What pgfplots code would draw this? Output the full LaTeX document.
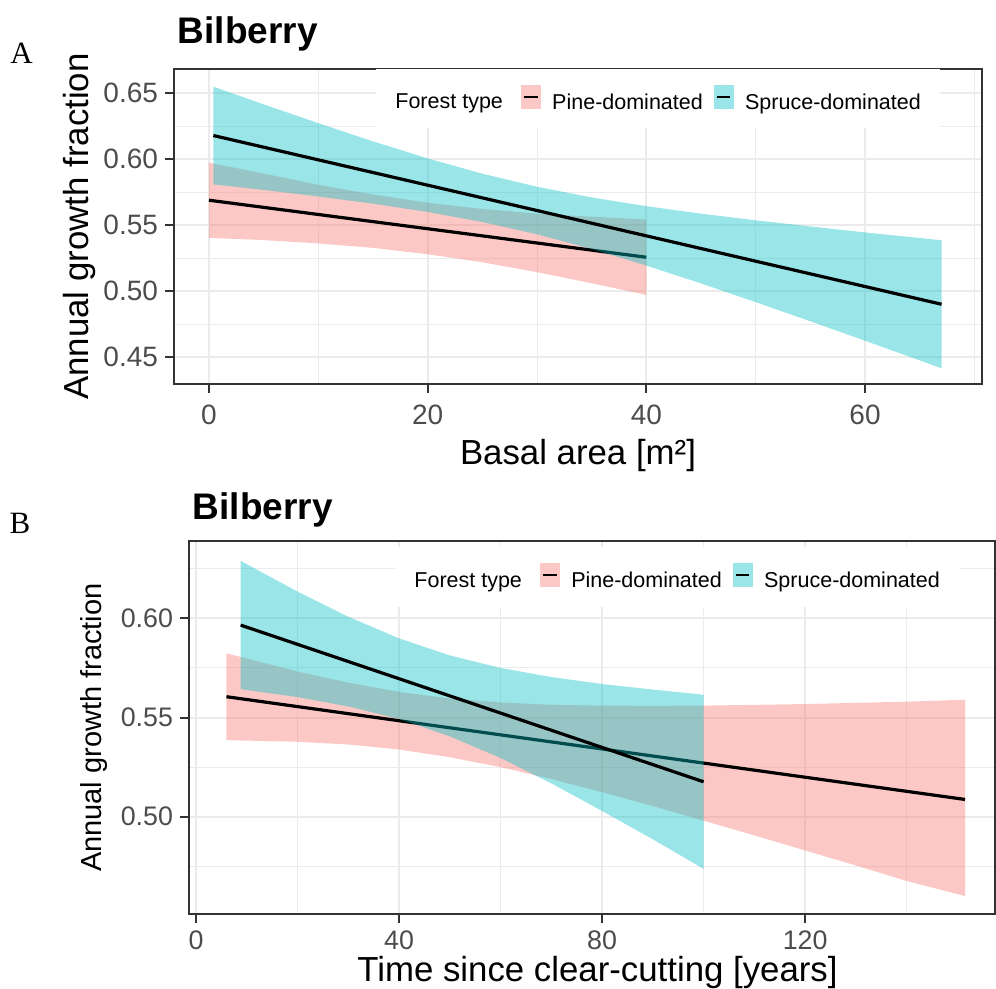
\documentclass[border=0pt]{standalone}
\usepackage{pgfplots}
\pgfplotsset{compat=1.18}
\usepackage{pgfplotstable}
\usepackage{fontspec}
\setmainfont{Liberation Sans}
\newfontfamily\panelfont{Liberation Serif}

\definecolor{pinefill}{HTML}{F8766D}
\definecolor{sprucefill}{HTML}{00BFC4}
\colorlet{pinekeyc}{pinefill!40}
\colorlet{sprucekeyc}{sprucefill!40}
\definecolor{gridc}{gray}{0.92}
\definecolor{framec}{gray}{0.2}
\definecolor{ticktext}{gray}{0.3}

% Fitted growth fraction vs basal area
\pgfplotstableread{
x    fit
0    0.5690
40   0.5258
}\pineA
\pgfplotstableread{
x    fit
0.4  0.6180
67   0.4902
}\spruceA
% Confidence bands: upper edge left to right, then lower edge right to left
\pgfplotstableread{
x    y
0    0.5975
5    0.5892
10   0.5807
15   0.5733
20   0.5671
25   0.5624
30   0.5589
35   0.5565
40   0.5543
40   0.4973
35   0.5061
30   0.5145
25   0.5220
20   0.5281
15   0.5329
10   0.5363
5    0.5388
0    0.5405
}\pineAband
\pgfplotstableread{
x    y
0.4  0.6550
5    0.6416
10   0.6274
15   0.6136
20   0.6007
25   0.5891
30   0.5792
35   0.5711
40   0.5645
45   0.5588
50   0.5538
55   0.5491
60   0.5446
67   0.5387
67   0.4417
60   0.4626
55   0.4773
50   0.4918
45   0.5060
40   0.5195
35   0.5321
30   0.5432
25   0.5525
20   0.5601
15   0.5664
10   0.5718
5    0.5768
0.4  0.5810
}\spruceAband

% Fitted growth fraction vs time since clear-cutting
\pgfplotstableread{
x     fit
6     0.5605
151.5 0.5087
}\pineB
\pgfplotstableread{
x     fit
8.8   0.5966
100   0.5176
}\spruceB
\pgfplotstableread{
x     y
6     0.5824
20    0.5732
30    0.5676
40    0.5629
50    0.5596
60    0.5576
70    0.5564
80    0.5560
90    0.5559
100   0.5560
110   0.5564
120   0.5568
130   0.5574
140   0.5580
151.5 0.5590
151.5 0.4600
140   0.4676
130   0.4754
120   0.4830
110   0.4906
100   0.4980
90    0.5054
80    0.5124
70    0.5190
60    0.5250
50    0.5300
40    0.5339
30    0.5364
20    0.5378
6     0.5386
}\pineBband
\pgfplotstableread{
x     y
8.8   0.6290
20    0.6135
30    0.6008
40    0.5899
50    0.5813
60    0.5750
70    0.5704
80    0.5669
90    0.5641
100   0.5615
100   0.4737
90    0.4886
80    0.5029
70    0.5168
60    0.5296
50    0.5405
40    0.5493
30    0.5556
20    0.5603
8.8   0.5643
}\spruceBband

\pgfplotsset{
  pinekey/.style={legend image code/.code={
    \path (-5.5pt,0pt) (15.25pt,0pt);
    \fill[pinekeyc] (0pt,-2.6pt) rectangle (9.5pt,8.9pt);
    \draw[black, line width=1pt] (1.4pt,3.15pt) -- (8.1pt,3.15pt);
  }},
  sprucekey/.style={legend image code/.code={
    \path (-5.5pt,0pt) (15.25pt,0pt);
    \fill[sprucekeyc] (0pt,-2.6pt) rectangle (9.5pt,8.9pt);
    \draw[black, line width=1pt] (1.4pt,3.15pt) -- (8.1pt,3.15pt);
  }},
  band/.style={fill=#1, fill opacity=0.4, draw=none, forget plot},
  fitline/.style={black, line width=1.6pt, forget plot},
  ggpanel/.style={
    scale only axis,
    clip=false,
    axis line style={draw=framec, line width=1pt},
    tick align=outside,
    tick pos=left,
    major tick length=4.5pt,
    minor tick length=0pt,
    every tick/.style={draw=framec, line width=1pt},
    grid=both,
    major grid style={draw=gridc, line width=1pt},
    minor grid style={draw=gridc, line width=0.5pt},
    ticklabel style={text=ticktext},
    /pgf/number format/assume math mode=true,
    yticklabel style={/pgf/number format/.cd, fixed, fixed zerofill, precision=2},
    xlabel style={font=\fontsize{17.4}{20}\selectfont, anchor=base},
    ylabel style={anchor=base},
    every axis title/.style={font=\bfseries\fontsize{18.5}{22}\selectfont, anchor=base west},
    legend columns=3,
    legend cell align=left,
    legend style={draw=none, fill=white, inner xsep=9.5pt, inner ysep=8pt,
      font=\fontsize{10.75}{13}\selectfont, nodes={inner sep=0pt},
      /tikz/column sep=0pt},
  },
}

\begin{document}
\begin{tikzpicture}

% Panel A: basal area
\begin{axis}[ggpanel,
  at={(87pt,-192pt)}, anchor=south west,
  width=404pt, height=157.5pt,
  xmin=-3.2, xmax=70.7, ymin=0.4298, ymax=0.6684,
  xtick={0,20,40,60}, minor xtick={10,30,50,70},
  ytick={0.45,0.50,0.55,0.60,0.65}, minor ytick={0.475,0.525,0.575,0.625},
  ticklabel style={font=\fontsize{14}{16}\selectfont},
  xticklabel style={yshift=-2.5pt},
  title={Bilberry},
  title style={at={(axis description cs:-0.004,1.0794)}},
  xlabel={Basal area [m²]},
  xlabel style={at={(axis description cs:0.5,-0.2571)}},
  ylabel={Annual growth fraction},
  ylabel style={at={(axis description cs:-0.1064,0.5)}, font=\fontsize{17.4}{20}\selectfont},
  legend style={at={(axis description cs:0.25,0.906)}, anchor=west},
]
\addlegendimage{empty legend}
\addlegendentry{Forest type\rule{3.5pt}{0pt}}
\addlegendimage{pinekey}
\addlegendentry{Pine-dominated}
\addlegendimage{sprucekey}
\addlegendentry{Spruce-dominated}

\addplot[band=pinefill] table[x=x, y=y] {\pineAband};
\addplot[fitline] table[x=x, y=fit] {\pineA};
\addplot[band=sprucefill] table[x=x, y=y] {\spruceAband};
\addplot[fitline] table[x=x, y=fit] {\spruceA};

\node[font=\panelfont\fontsize{15.5}{17}\selectfont, anchor=base west, inner sep=0pt]
  at (axis description cs:-0.203,1.0159) {A};
\end{axis}

% Panel B: time since clear-cutting
\begin{axis}[ggpanel,
  at={(94.5pt,-457.15pt)}, anchor=south west,
  width=403pt, height=186.65pt,
  xmin=-1.38, xmax=157.4, ymin=0.4508, ymax=0.639,
  xtick={0,40,80,120}, minor xtick={20,60,100,140},
  ytick={0.50,0.55,0.60}, minor ytick={0.475,0.525,0.575,0.625},
  ticklabel style={font=\fontsize{13.4}{16}\selectfont},
  title={Bilberry},
  title style={at={(axis description cs:-0.004,1.0581)}},
  xlabel={Time since clear-cutting [years]},
  xlabel style={at={(axis description cs:0.5068,-0.1806)}},
  ylabel={Annual growth fraction},
  ylabel style={at={(axis description cs:-0.1083,0.5)}, font=\fontsize{14.5}{17}\selectfont},
  legend style={at={(axis description cs:0.2556,0.9036)}, anchor=west},
]
\addlegendimage{empty legend}
\addlegendentry{Forest type\rule{3.5pt}{0pt}}
\addlegendimage{pinekey}
\addlegendentry{Pine-dominated}
\addlegendimage{sprucekey}
\addlegendentry{Spruce-dominated}

\addplot[band=pinefill] table[x=x, y=y] {\pineBband};
\addplot[fitline] table[x=x, y=fit] {\pineB};
\addplot[band=sprucefill] table[x=x, y=y] {\spruceBband};
\addplot[fitline] table[x=x, y=fit] {\spruceB};

\node[font=\panelfont\fontsize{15.5}{17}\selectfont, anchor=base west, inner sep=0pt]
  at (axis description cs:-0.223,1.0214) {B};
\end{axis}

\pgfresetboundingbox
\path[use as bounding box] (0pt,0pt) rectangle (498pt,-494.5pt);
\end{tikzpicture}
\end{document}
